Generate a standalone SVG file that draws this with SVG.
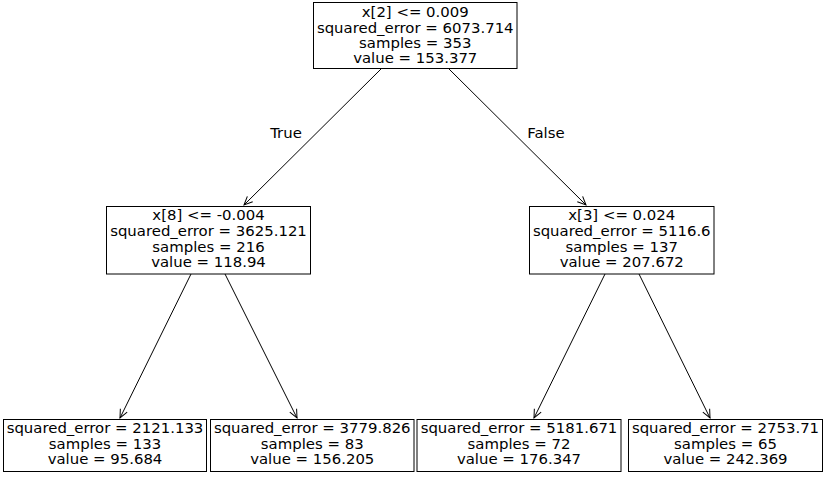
<svg xmlns="http://www.w3.org/2000/svg" width="828" height="477" viewBox="0 0 828 477">
<defs>
<style>
.box{fill:#fff;stroke:#000;stroke-width:1}
text{font-family:"DejaVu Sans","Liberation Sans",sans-serif;font-size:14.9px;fill:#000;text-anchor:middle}
.edge{stroke:#000;stroke-width:1;fill:none;marker-end:url(#ah)}
</style>
<marker id="ah" markerUnits="userSpaceOnUse" viewBox="-10 -6 12 12" refX="0" refY="0" markerWidth="12" markerHeight="12" orient="auto">
<path d="M-8.5,-3.8 L0,0 L-8.5,3.8" fill="none" stroke="#000" stroke-width="1"/>
</marker>
</defs>
<rect width="828" height="477" fill="#fff"/>
<g id="connectors">
<line class="edge" x1="381" y1="69" x2="244" y2="205"/>
<line class="edge" x1="449" y1="69" x2="586" y2="205"/>
<line class="edge" x1="191" y1="274" x2="120" y2="418"/>
<line class="edge" x1="225" y1="274" x2="297" y2="418"/>
<line class="edge" x1="605" y1="274" x2="534" y2="418"/>
<line class="edge" x1="639" y1="274" x2="710" y2="418"/>
<text x="286" y="138">True</text>
<text x="546" y="138">False</text>
</g>
<g id="root">
<rect class="box" x="313.5" y="2.5" width="203.5" height="66"/>
<text x="415.25" y="16.7">x[2] &lt;= 0.009</text>
<text x="415.25" y="32.5">squared_error = 6073.714</text>
<text x="415.25" y="48.2">samples = 353</text>
<text x="415.25" y="63.3">value = 153.377</text>
</g>
<g id="node1">
<rect class="box" x="106.5" y="206.5" width="204" height="67.5"/>
<text x="208.5" y="220.3">x[8] &lt;= -0.004</text>
<text x="208.5" y="236.2">squared_error = 3625.121</text>
<text x="208.5" y="251.8">samples = 216</text>
<text x="208.5" y="266.8">value = 118.94</text>
</g>
<g id="node4">
<rect class="box" x="529.5" y="206.5" width="184.5" height="67.5"/>
<text x="621.75" y="220.3">x[3] &lt;= 0.024</text>
<text x="621.75" y="236.2">squared_error = 5116.6</text>
<text x="621.75" y="251.8">samples = 137</text>
<text x="621.75" y="266.8">value = 207.672</text>
</g>
<g id="leaf2">
<rect class="box" x="3.5" y="419.5" width="203" height="52"/>
<text x="105" y="433.3">squared_error = 2121.133</text>
<text x="105" y="449.2">samples = 133</text>
<text x="105" y="464">value = 95.684</text>
</g>
<g id="leaf3">
<rect class="box" x="210.5" y="419.5" width="203.5" height="52"/>
<text x="312.25" y="433.3">squared_error = 3779.826</text>
<text x="312.25" y="449.2">samples = 83</text>
<text x="312.25" y="464">value = 156.205</text>
</g>
<g id="leaf5">
<rect class="box" x="417" y="419.5" width="204" height="52"/>
<text x="519" y="433.3">squared_error = 5181.671</text>
<text x="519" y="449.2">samples = 72</text>
<text x="519" y="464">value = 176.347</text>
</g>
<g id="leaf6">
<rect class="box" x="628.5" y="419.5" width="194" height="52"/>
<text x="725.5" y="433.3">squared_error = 2753.71</text>
<text x="725.5" y="449.2">samples = 65</text>
<text x="725.5" y="464">value = 242.369</text>
</g>
</svg>
